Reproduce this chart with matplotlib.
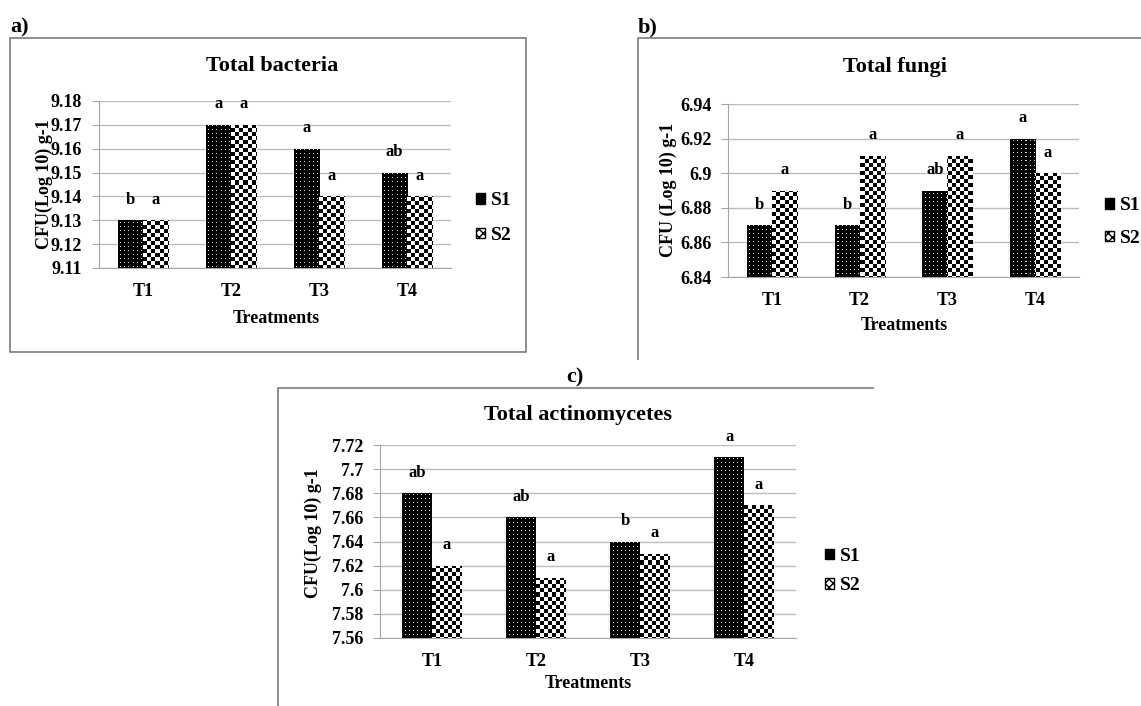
import numpy as np
import matplotlib
matplotlib.use("Agg")
import matplotlib.pyplot as plt
from matplotlib.patches import Patch
from matplotlib.lines import Line2D

# ---- data ----
treatments = ["T1", "T2", "T3", "T4"]

bact_s1 = [9.13, 9.17, 9.16, 9.15]
bact_s2 = [9.13, 9.17, 9.14, 9.14]
bact_let_s1 = ["b", "a", "a", "ab"]
bact_let_s2 = ["a", "a", "a", "a"]
bact_ticks = [9.11, 9.12, 9.13, 9.14, 9.15, 9.16, 9.17, 9.18]

fungi_s1 = [6.87, 6.87, 6.89, 6.92]
fungi_s2 = [6.89, 6.91, 6.91, 6.90]
fungi_let_s1 = ["b", "b", "ab", "a"]
fungi_let_s2 = ["a", "a", "a", "a"]
fungi_ticks = [6.84, 6.86, 6.88, 6.90, 6.92, 6.94]

actino_s1 = [7.68, 7.66, 7.64, 7.71]
actino_s2 = [7.62, 7.61, 7.63, 7.67]
actino_let_s1 = ["ab", "ab", "b", "a"]
actino_let_s2 = ["a", "a", "a", "a"]
actino_ticks = [7.56, 7.58, 7.60, 7.62, 7.64, 7.66, 7.68, 7.70, 7.72]

W, H = 1141, 706
DPI = 100
FONT = "Liberation Serif"
plt.rcParams["font.family"] = [FONT, "DejaVu Serif"]
plt.rcParams["font.weight"] = "bold"

fig = plt.figure(figsize=(W / DPI, H / DPI), dpi=DPI)


def fx(px):
    return px / W


def fy(py):
    return 1 - py / H


def box_line(xs, ys):
    fig.add_artist(Line2D([fx(x) for x in xs], [fy(y) for y in ys],
                          color="#8c8c8c", lw=1.4, transform=fig.transFigure))


def fmt(v):
    # excel style labels: 7.7 instead of 7.70
    return f"{v:.2f}".rstrip("0").rstrip(".")


def pattern(h, w, kind):
    i, j = np.mgrid[0:h, 0:w]
    if kind == "dots":
        img = ((i % 4 == 1) & (j % 4 == 1)).astype(float) * 0.85
    else:
        img = (((i // 4) + (j // 4)) % 2).astype(float)
    return img


def panel(rect, s1, s2, let1, let2, ticks, title, title_xy, ylabel, ylabel_xy,
          xlabel_xy, legend_xy, legend_gap):
    left, top, right, bottom = rect
    ax = fig.add_axes([fx(left), fy(bottom), fx(right - left), (bottom - top) / H])
    x = np.arange(len(treatments))
    w = 0.285
    ylo, yhi = ticks[0], ticks[-1]
    xlim = (-0.5, len(treatments) - 0.5)

    b1 = ax.bar(x - w / 2, np.array(s1) - ylo, w, bottom=ylo,
                facecolor="none", lw=0, zorder=3)
    b2 = ax.bar(x + w / 2, np.array(s2) - ylo, w, bottom=ylo,
                facecolor="none", lw=0, zorder=3)

    # fill every bar with a pixel pattern (dots for S1, checker for S2)
    ph, pw = int(bottom - top), int(right - left)
    for bars, kind in ((b1, "dots"), (b2, "checker")):
        for rect_ in bars:
            im = ax.imshow(pattern(ph, pw, kind), extent=(xlim[0], xlim[1], ylo, yhi),
                           origin="upper", aspect="auto", cmap="gray", vmin=0, vmax=1,
                           interpolation="nearest", zorder=3)
            im.set_clip_path(rect_)

    for xi, v, t in zip(x - w / 2, s1, let1):
        ax.annotate(t, (xi, v), xytext=(0, 9), textcoords="offset points",
                    ha="center", va="bottom", fontsize=12, fontweight="bold")
    for xi, v, t in zip(x + w / 2, s2, let2):
        ax.annotate(t, (xi, v), xytext=(0, 9), textcoords="offset points",
                    ha="center", va="bottom", fontsize=12, fontweight="bold")

    ax.set_xlim(*xlim)
    ax.set_ylim(ylo, yhi)
    ax.set_yticks(ticks)
    ax.set_yticklabels([fmt(t) for t in ticks])
    ax.set_xticks(x)
    ax.set_xticklabels(treatments)
    ax.yaxis.grid(True, color="#bdbdbd", lw=1.0)
    ax.set_axisbelow(True)
    for s in ("top", "right"):
        ax.spines[s].set_visible(False)
    ax.spines["left"].set_color("#a6a6a6")
    ax.spines["bottom"].set_color("#a6a6a6")
    ax.tick_params(axis="y", length=5, color="#a6a6a6", pad=7, labelsize=13)
    ax.tick_params(axis="x", length=0, pad=11, labelsize=13)
    for lab in ax.get_xticklabels() + ax.get_yticklabels():
        lab.set_fontweight("bold")

    fig.text(fx(title_xy[0]), fy(title_xy[1]), title, ha="center", va="center",
             fontsize=16, fontweight="bold")
    fig.text(fx(ylabel_xy[0]), fy(ylabel_xy[1]), ylabel, ha="center", va="center",
             rotation=90, fontsize=13, fontweight="bold")
    fig.text(fx(xlabel_xy[0]), fy(xlabel_xy[1]), "Treatments", ha="center",
             va="center", fontsize=13, fontweight="bold")

    handles = [Patch(facecolor="black", edgecolor="black", label="S1"),
               Patch(facecolor="white", edgecolor="black", hatch="xxxx", label="S2")]
    fig.legend(handles=handles, loc="center left",
               bbox_to_anchor=(fx(legend_xy[0]), fy(legend_xy[1])),
               frameon=False, handlelength=0.45, handleheight=0.45,
               handletextpad=0.3, borderpad=0, borderaxespad=0,
               labelspacing=legend_gap, prop={"weight": "bold", "size": 14})
    return ax


# panel a
box_line([10, 526, 526, 10, 10], [38, 38, 352, 352, 38])
fig.text(fx(10), fy(27), "a)", ha="left", va="center", fontsize=16, fontweight="bold")
panel((99, 101, 451, 268), bact_s1, bact_s2, bact_let_s1, bact_let_s2, bact_ticks,
      "Total bacteria", (272, 66), "CFU(Log 10) g-1", (44, 184), (276, 318),
      (476, 218), 0.9)

# panel b
box_line([1141, 638, 638], [38, 38, 359])
fig.text(fx(638), fy(27), "b)", ha="left", va="center", fontsize=16, fontweight="bold")
panel((728, 104, 1079, 277), fungi_s1, fungi_s2, fungi_let_s1, fungi_let_s2,
      fungi_ticks, "Total fungi", (895, 67), "CFU (Log 10) g-1", (668, 190),
      (904, 325), (1105, 222), 0.8)

# panel c
box_line([873, 278, 278], [388, 388, 706])
fig.text(fx(575), fy(377), "c)", ha="center", va="center", fontsize=16, fontweight="bold")
panel((380, 445, 796, 638), actino_s1, actino_s2, actino_let_s1, actino_let_s2,
      actino_ticks, "Total actinomycetes", (578, 415), "CFU(Log 10) g-1", (313, 533),
      (588, 683), (825, 571), 0.65)

fig.savefig("out.png", dpi=DPI)
